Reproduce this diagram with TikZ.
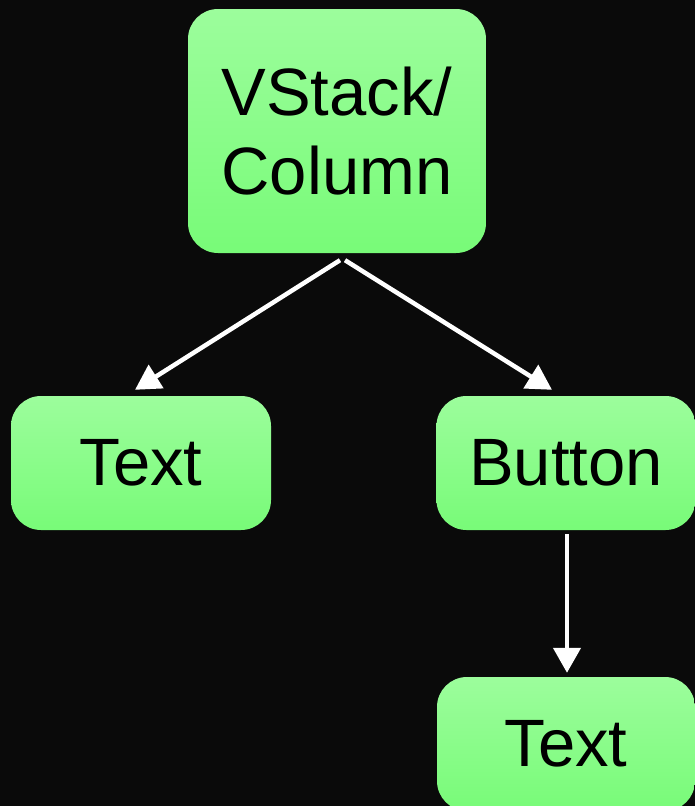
\documentclass[tikz,border=0pt]{standalone}
\usepackage{fontspec}
\setmainfont{Liberation Sans}
\usetikzlibrary{arrows.meta}
\definecolor{bg}{HTML}{0A0A0A}
\definecolor{gtop}{HTML}{9CFD9C}
\definecolor{gbot}{HTML}{78FB78}
\tikzset{
  viewbox/.style={rounded corners=30pt, top color=gtop, bottom color=gbot,
    draw=none, align=center, text=black, inner sep=0pt,
    font=\fontsize{67}{79}\selectfont},
  arr/.style={draw=white, line width=4.5pt,
    -{Triangle[length=25pt,width=27pt]}}
}
\begin{document}
\begin{tikzpicture}[x=1pt,y=1pt]
\useasboundingbox (0,0) rectangle (695,-806);
\fill[bg] (0,0) rectangle (695,-806);
\clip (0,0) rectangle (695,-806);

\node[viewbox, minimum width=298pt, minimum height=244pt] (root) at (337,-131) {VStack/\\Column};
\node[viewbox, minimum width=260pt, minimum height=134pt] (txtA) at (141,-463) {Text};
\node[viewbox, minimum width=259pt, minimum height=134pt] (btn) at (566,-463) {Button};
\node[viewbox, minimum width=258pt, minimum height=134pt] (txtB) at (566,-744) {Text};

\draw[arr] ([xshift=3pt,yshift=-7pt]root.south) -- ([xshift=-6pt,yshift=6pt]txtA.north);
\draw[arr] ([xshift=8pt,yshift=-7pt]root.south) -- ([xshift=-14pt,yshift=6pt]btn.north);
\draw[arr] ([xshift=1pt,yshift=-4pt]btn.south) -- ([xshift=1pt,yshift=4pt]txtB.north);
\end{tikzpicture}
\end{document}
